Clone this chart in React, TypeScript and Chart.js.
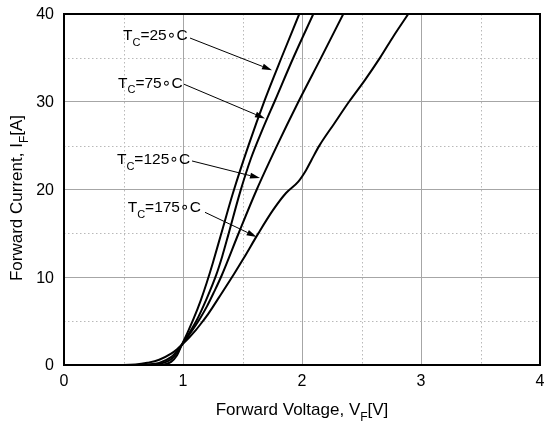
import React, { useEffect, useRef } from "react";
import { Chart, registerables } from "chart.js";

Chart.register(...registerables);

// ---- axes ----
const X_MIN = 0;
const X_MAX = 4;
const Y_MIN = 0;
const Y_MAX = 40;
const X_TICKS = [0, 1, 2, 3, 4];
const Y_TICKS = [0, 10, 20, 30, 40];
const X_MINOR = [0.5, 1.5, 2.5, 3.5];
const Y_MINOR = [5, 15, 25, 35];

// ---- series (V_F [V], I_F [A]) ----
const V_25 = [0, 0.75, 0.8, 0.85, 0.9, 0.95, 0.99, 1.04, 1.09, 1.15, 1.2, 1.25, 1.32, 1.42, 1.55, 1.69, 1.83, 1.977];
const I_25 = [0, 0, 0.03, 0.1, 0.35, 1.1, 2.3, 3.75, 5.3, 7.4, 9.4, 11.6, 14.9, 19.6, 25, 30.3, 35.1, 40];

const V_75 = [0, 0.65, 0.7, 0.8, 0.9, 0.95, 0.99, 1.05, 1.115, 1.2, 1.28, 1.33, 1.38, 1.48, 1.57, 1.67, 1.775, 1.93, 2.095];
const I_75 = [0, 0, 0.02, 0.12, 0.65, 1.4, 2.3, 3.6, 5.1, 7.6, 10.3, 12.4, 14.8, 19.7, 23.5, 26.9, 30.2, 35.1, 40];

const V_125 = [0, 0.6, 0.7, 0.8, 0.9, 0.95, 0.99, 1.07, 1.143, 1.2, 1.26, 1.325, 1.47, 1.62, 1.79, 1.97, 2.16, 2.347];
const I_125 = [0, 0, 0.06, 0.24, 0.9, 1.6, 2.3, 3.8, 5.3, 6.65, 8.3, 10.2, 15.1, 20, 25, 30, 35, 40];

const V_175 = [0, 0.5, 0.6, 0.7, 0.8, 0.9, 0.95, 0.99, 1.05, 1.1, 1.15, 1.2, 1.25, 1.3, 1.43, 1.507, 1.633, 1.759, 1.866, 1.969, 2.034, 2.081, 2.146, 2.27, 2.395, 2.53, 2.655, 2.77, 2.893];
const I_175 = [0, 0, 0.05, 0.25, 0.6, 1.3, 1.8, 2.3, 3.1, 3.85, 4.7, 5.6, 6.6, 7.65, 10.4, 12.1, 15, 17.7, 19.6, 20.9, 22.2, 23.4, 25, 27.5, 30, 32.5, 35, 37.5, 40];

// ---- annotations (labels in data coordinates) ----
const LABEL_TEMPS = ["25", "75", "125", "175"];
const LABEL_V = [0.496, 0.454, 0.445, 0.535];
const LABEL_I = [37.5, 32.1, 23.4, 17.9];
const ARROW_FROM_V = [1.059, 1.008, 1.076, 1.185];
const ARROW_FROM_I = [37.26, 32.0, 23.25, 17.4];
const ARROW_TO_V = [1.748, 1.689, 1.647, 1.619];
const ARROW_TO_I = [33.6, 28.1, 21.3, 14.6];

const X_TITLE = ["Forward Voltage, V", "F", "[V]"];
const Y_TITLE = ["Forward Current, I", "F", "[A]"];

const FONT = '"Liberation Sans", Arial, "DejaVu Sans", sans-serif';

function toPts(vs: number[], is: number[]) {
  return vs.map((v, k) => ({ x: v, y: is[k] }));
}

function subText(ctx: CanvasRenderingContext2D, parts: string[], size: number, measureOnly = false, x = 0, y = 0) {
  const big = `${size}px ${FONT}`;
  const small = `${Math.round(size * 0.68)}px ${FONT}`;
  ctx.font = big;
  const w0 = ctx.measureText(parts[0]).width;
  ctx.font = small;
  const w1 = ctx.measureText(parts[1]).width;
  ctx.font = big;
  const w2 = ctx.measureText(parts[2]).width;
  const total = w0 + w1 + w2;
  if (!measureOnly) {
    ctx.textBaseline = "middle";
    ctx.textAlign = "left";
    ctx.font = big;
    ctx.fillText(parts[0], x, y);
    ctx.font = small;
    ctx.fillText(parts[1], x + w0, y + size * 0.45);
    ctx.font = big;
    ctx.fillText(parts[2], x + w0 + w1, y);
  }
  return total;
}

const decorPlugin = {
  id: "decor",
  beforeDatasetsDraw(chart: any) {
    const { ctx, chartArea: a, scales } = chart;
    const xs = scales.x;
    const ys = scales.y;
    ctx.save();
    ctx.strokeStyle = "#b9b9b9";
    ctx.lineWidth = 1;
    ctx.setLineDash([1.5, 2.5]);
    X_MINOR.forEach((v) => {
      const px = Math.round(xs.getPixelForValue(v)) + 0.5;
      ctx.beginPath();
      ctx.moveTo(px, a.top);
      ctx.lineTo(px, a.bottom);
      ctx.stroke();
    });
    Y_MINOR.forEach((v) => {
      const py = Math.round(ys.getPixelForValue(v)) + 0.5;
      ctx.beginPath();
      ctx.moveTo(a.left, py);
      ctx.lineTo(a.right, py);
      ctx.stroke();
    });
    ctx.restore();
  },
  afterDatasetsDraw(chart: any) {
    const { ctx, chartArea: a, scales } = chart;
    const xs = scales.x;
    const ys = scales.y;
    ctx.save();
    ctx.strokeStyle = "#000";
    ctx.lineWidth = 2;
    ctx.strokeRect(a.left, a.top, a.right - a.left, a.bottom - a.top);

    ctx.lineWidth = 1;
    ctx.fillStyle = "#000";
    LABEL_TEMPS.forEach((t, k) => {
      const x0 = xs.getPixelForValue(ARROW_FROM_V[k]);
      const y0 = ys.getPixelForValue(ARROW_FROM_I[k]);
      const x1 = xs.getPixelForValue(ARROW_TO_V[k]);
      const y1 = ys.getPixelForValue(ARROW_TO_I[k]);
      const ang = Math.atan2(y1 - y0, x1 - x0);
      const hl = 10;
      const hw = 3;
      ctx.beginPath();
      ctx.moveTo(x0, y0);
      ctx.lineTo(x1 - hl * Math.cos(ang), y1 - hl * Math.sin(ang));
      ctx.stroke();
      ctx.beginPath();
      ctx.moveTo(x1, y1);
      ctx.lineTo(x1 - hl * Math.cos(ang) + hw * Math.sin(ang), y1 - hl * Math.sin(ang) - hw * Math.cos(ang));
      ctx.lineTo(x1 - hl * Math.cos(ang) - hw * Math.sin(ang), y1 - hl * Math.sin(ang) + hw * Math.cos(ang));
      ctx.closePath();
      ctx.fill();

      const lx = xs.getPixelForValue(LABEL_V[k]);
      const ly = ys.getPixelForValue(LABEL_I[k]);
      subText(ctx, ["T", "C", "=" + t + "\u2218C"], 15.5, false, lx, ly);
    });
    ctx.restore();
  },
  afterDraw(chart: any) {
    const { ctx, chartArea: a, scales } = chart;
    const xs = scales.x;
    const ys = scales.y;
    ctx.save();
    ctx.fillStyle = "#000";
    ctx.font = `16px ${FONT}`;
    ctx.textBaseline = "middle";
    ctx.textAlign = "center";
    X_TICKS.forEach((v) => {
      ctx.fillText(String(v), xs.getPixelForValue(v), a.bottom + 17);
    });
    ctx.textAlign = "right";
    Y_TICKS.forEach((v) => {
      ctx.fillText(String(v), a.left - 10, ys.getPixelForValue(v) + 1);
    });
    const wx = subText(ctx, X_TITLE, 17, true);
    subText(ctx, X_TITLE, 17, false, (a.left + a.right) / 2 - wx / 2, 410);
    ctx.translate(17, 198);
    ctx.rotate(-Math.PI / 2);
    const wy = subText(ctx, Y_TITLE, 17, true);
    subText(ctx, Y_TITLE, 17, false, -wy / 2, 0);
    ctx.restore();
  },
};

export default function App() {
  const ref = useRef<HTMLCanvasElement | null>(null);

  useEffect(() => {
    document.body.style.margin = "0";
    const canvas = ref.current;
    if (!canvas) return;
    const line = (vs: number[], is: number[]) => ({
      data: toPts(vs, is),
      borderColor: "#000",
      borderWidth: 2,
      pointRadius: 0,
      fill: false,
      cubicInterpolationMode: "monotone" as const,
    });
    const chart = new Chart(canvas, {
      type: "line",
      data: {
        datasets: [line(V_25, I_25), line(V_75, I_75), line(V_125, I_125), line(V_175, I_175)],
      },
      plugins: [decorPlugin],
      options: {
        animation: false,
        responsive: true,
        maintainAspectRatio: false,
        layout: { padding: { left: 0, right: 4, top: 14, bottom: 0 } },
        plugins: { legend: { display: false }, tooltip: { enabled: false } },
        scales: {
          x: {
            type: "linear",
            min: X_MIN,
            max: X_MAX,
            afterFit: (s: any) => {
              s.height = 60;
            },
            ticks: { stepSize: 1, display: false },
            grid: { color: "#a6a6a6", lineWidth: 1, drawTicks: false },
            border: { display: false },
          },
          y: {
            type: "linear",
            min: Y_MIN,
            max: Y_MAX,
            afterFit: (s: any) => {
              s.width = 64;
            },
            ticks: { stepSize: 10, display: false },
            grid: { color: "#a6a6a6", lineWidth: 1, drawTicks: false },
            border: { display: false },
          },
        },
      },
    } as any);
    return () => chart.destroy();
  }, []);

  return (
    <div style={{ width: 544, height: 425, position: "relative" }}>
      <canvas ref={ref} />
    </div>
  );
}
